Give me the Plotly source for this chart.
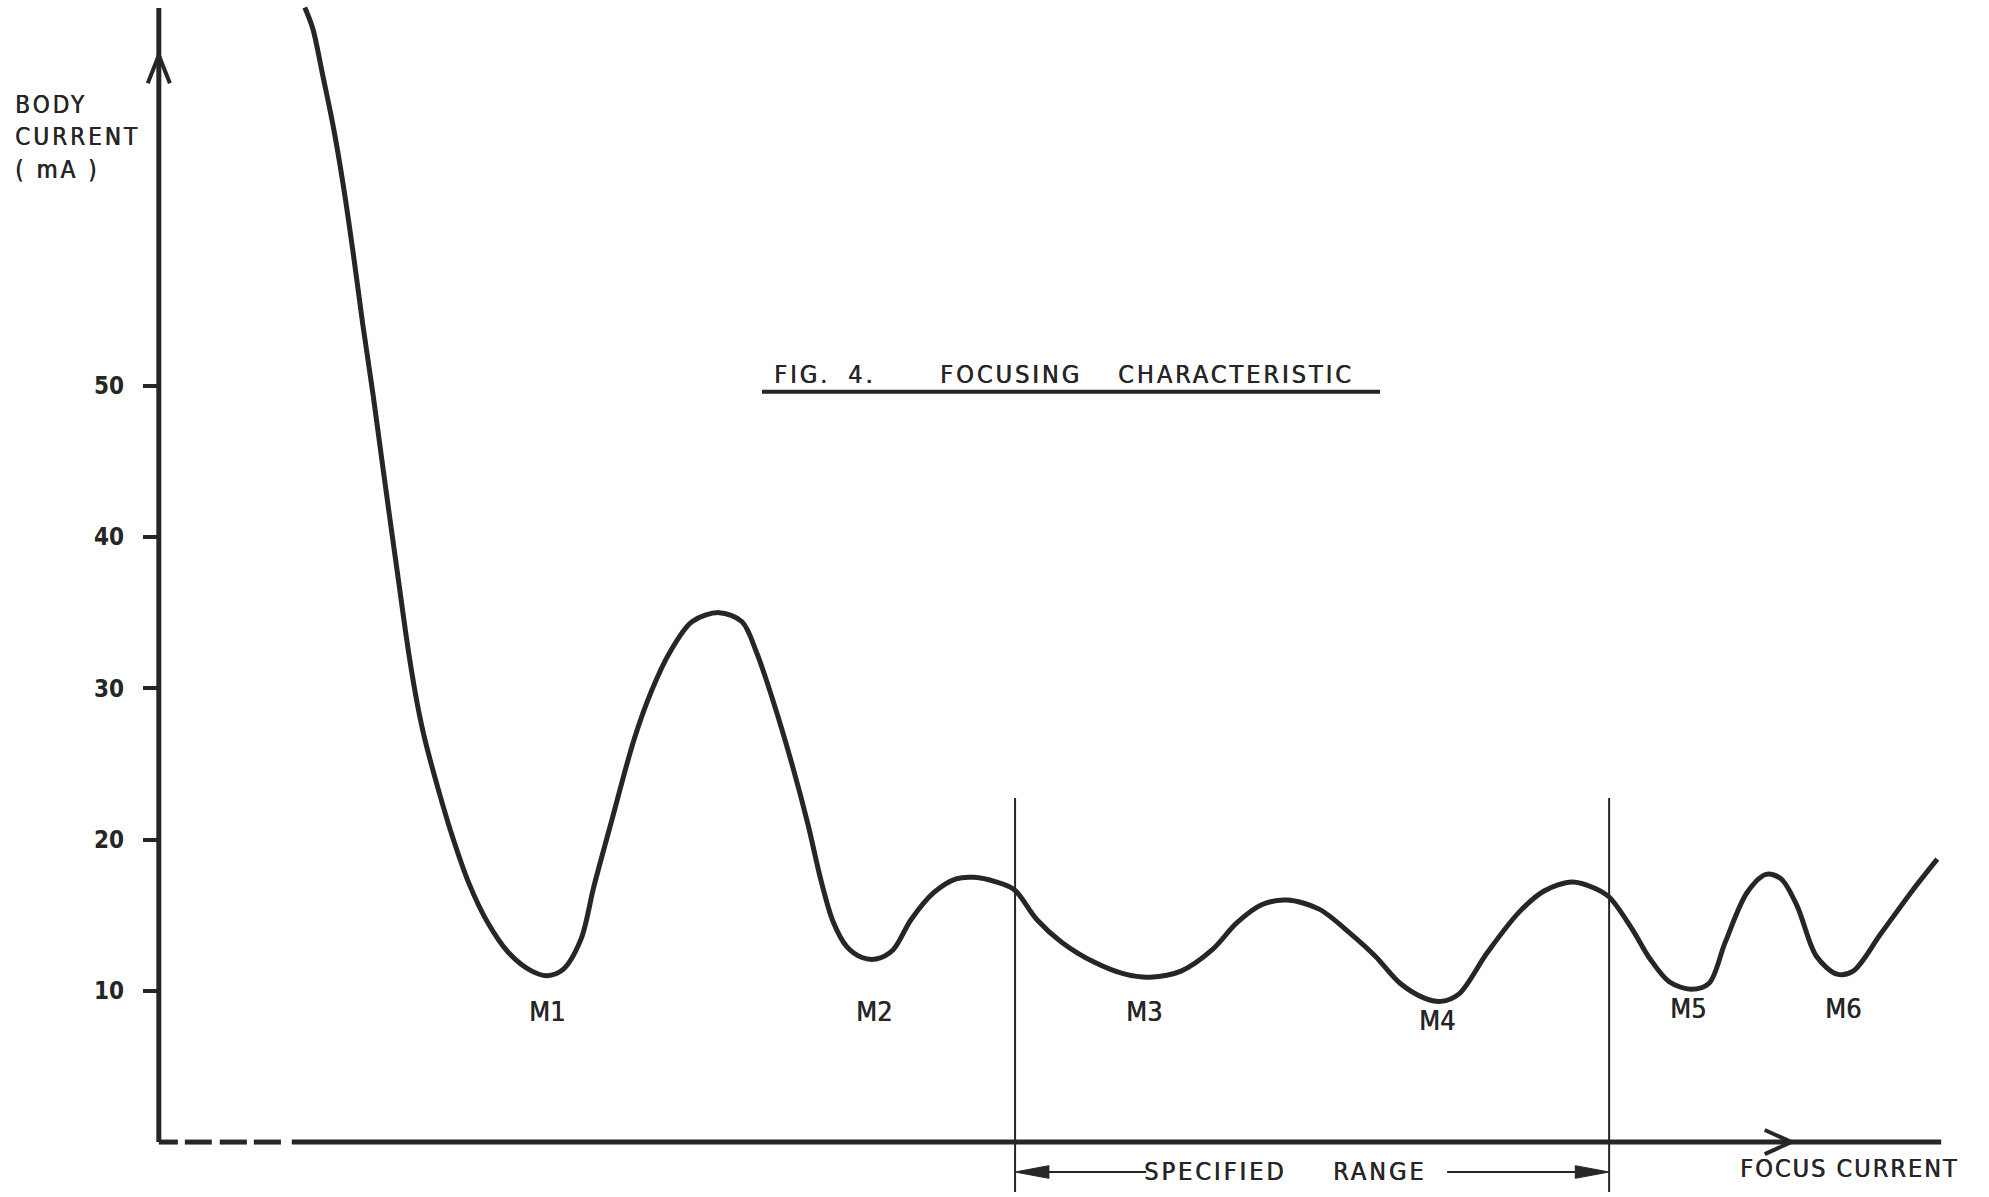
import plotly.graph_objects as go

# ---------------- data ----------------
focus_current = [
    8.19, 8.64, 9.20, 9.76, 10.33, 10.89, 11.45, 12.01, 12.57, 13.13, 13.52,
    13.86, 14.20, 14.53, 14.93, 15.66, 16.39, 17.40, 18.41, 19.64, 20.93, 21.77, 22.67,
    23.68, 24.41, 25.42, 26.66, 27.67, 28.68, 29.91, 31.43, 32.72, 33.56,
    34.51, 35.52, 36.42, 37.15, 37.82, 38.61, 39.45, 40.24, 41.19, 42.20, 43.49,
    44.73, 45.74, 46.97, 47.98, 49.27, 50.67, 52.47, 54.21, 55.61, 57.35,
    59.09, 60.49, 61.90, 63.30, 65.10, 66.84, 68.24, 69.64, 71.04, 71.94,
    72.95, 74.52, 76.32, 77.72, 79.29, 80.53, 81.37, 82.60, 83.67, 84.74,
    85.97, 86.98, 87.88, 89.11, 90.18, 91.02, 91.92, 92.99, 94.16, 95.06,
    96.63, 98.37, 99.78,
]
body_current = [
    75.0, 73.6, 70.5, 67.3, 63.4, 58.9, 54.0, 49.5, 44.6, 39.8, 36.5,
    33.6, 31.0, 28.8, 26.6, 23.4, 20.5, 17.1, 14.6, 12.5, 11.3, 11.0, 11.4,
    13.4, 16.9, 21.3, 26.6, 29.9, 32.4, 34.4, 35.0, 34.4, 32.3,
    29.0, 25.0, 21.0, 17.3, 14.6, 12.9, 12.2, 12.1, 12.7, 14.7, 16.5,
    17.4, 17.5, 17.2, 16.7, 14.7, 13.2, 11.9, 11.1, 10.9, 11.3,
    12.7, 14.5, 15.7, 16.0, 15.4, 13.8, 12.3, 10.5, 9.5, 9.3,
    9.8, 12.5, 15.2, 16.6, 17.2, 16.8, 16.2, 14.2, 12.1, 10.6,
    10.1, 10.5, 13.2, 16.5, 17.7, 17.4, 15.6, 12.3, 11.1, 11.3,
    13.8, 16.6, 18.7,
]

y_tick_values = [10, 20, 30, 40, 50]
y_tick_labels = ["10", "20", "30", "40", "50"]

minima_labels = ["M1", "M2", "M3", "M4", "M5", "M6"]
minima_x = [21.8, 40.1, 55.3, 71.7, 85.8, 94.5]

specified_range = [48.04, 81.37]

title_words = ["FIG.", "4.", "FOCUSING", "CHARACTERISTIC"]
y_title_lines = ["BODY", "CURRENT", "( mA )"]
x_title = "FOCUS CURRENT"
range_words = ["SPECIFIED", "RANGE"]

# ---------------- styling ----------------
INK = "#262626"
FONT = "DejaVu Sans Condensed"
X_RANGE = [-1, 101]
Y_RANGE = [-3.5, 75.5]
X_END = 100
Y_TOP = 74.97

fig = go.Figure()
fig.add_trace(go.Scatter(
    x=focus_current, y=body_current, mode="lines",
    line=dict(color=INK, width=5, shape="spline", smoothing=0.9),
    hoverinfo="skip", showlegend=False,
))

shapes = []


def seg(x0, y0, x1, y1, w):
    shapes.append(dict(type="line", xref="x", yref="y", x0=x0, y0=y0, x1=x1, y1=y1,
                       line=dict(color=INK, width=w)))


# y axis line with open arrowhead
seg(0, 0, 0, Y_TOP, 5)
shapes.append(dict(type="path", xref="x", yref="y",
                   path="M -0.62,70.0 L 0,71.85 L 0.62,70.0",
                   line=dict(color=INK, width=4)))
# x axis: dashed start then solid line with open arrowhead
for a, b in [(0, 1.07), (1.46, 2.97), (3.42, 4.94), (5.33, 6.85)]:
    seg(a, 0, b, 0, 5)
seg(7.46, 0, X_END, 0, 5)
shapes.append(dict(type="path", xref="x", yref="y",
                   path="M 90.1,0.8 L 91.6,0 L 90.1,-0.8",
                   line=dict(color=INK, width=4)))
# specified range boundaries
for xv in specified_range:
    seg(xv, -3.3, xv, 22.75, 2)
# specified range arrow
ya = -1.98
seg(specified_range[0] + 1.8, ya, 55.4, ya, 2)
seg(72.28, ya, specified_range[1] - 1.8, ya, 2)
shapes.append(dict(type="path", xref="x", yref="y",
                   path=f"M {specified_range[0]},{ya} L {specified_range[0]+1.9},{ya+0.42} "
                        f"L {specified_range[0]+1.9},{ya-0.42} Z",
                   fillcolor=INK, line=dict(color=INK, width=1)))
shapes.append(dict(type="path", xref="x", yref="y",
                   path=f"M {specified_range[1]},{ya} L {specified_range[1]-1.9},{ya+0.42} "
                        f"L {specified_range[1]-1.9},{ya-0.42} Z",
                   fillcolor=INK, line=dict(color=INK, width=1)))
# title underline
seg(33.84, 49.6, 68.52, 49.6, 4)

annotations = []
SHADOW = f"0.6px 0px 0px {INK}"


def text(t, x, y, size=25, xanchor="center", xref="x", spacing=3):
    annotations.append(dict(
        text=f'<span style="letter-spacing:{spacing}px">{t}</span>',
        x=x, y=y, xref=xref, yref="y", showarrow=False,
        xanchor=xanchor, yanchor="middle",
        font=dict(family=FONT, size=size, color=INK, shadow=SHADOW)))


for w, xc in zip(title_words, [36.08, 39.4, 47.8, 60.44]):
    text(w, xc, 50.75, size=25)
for line, yc in zip(y_title_lines, [68.54, 66.42, 64.24]):
    # left of the y axis: place in paper coordinates (x = -8.19 in data units)
    text(line, (-8.19 - X_RANGE[0]) / (X_RANGE[1] - X_RANGE[0]), yc, size=24,
         xanchor="left", xref="paper")
text(x_title, 94.84, -1.72, size=25, spacing=2)
for w, xc in zip(range_words, [59.3, 68.5]):
    text(w, xc, -1.95, size=25)
for lab, xm, yl in zip(minima_labels, minima_x, [8.6, 8.6, 8.6, 8.06, 8.86, 8.86]):
    text(lab, xm, yl, size=27, spacing=0)

fig.update_layout(
    width=1989, height=1197,
    margin=dict(l=141, r=30, t=0, b=2, autoexpand=False),
    paper_bgcolor="white", plot_bgcolor="white",
    shapes=shapes, annotations=annotations,
    showlegend=False,
    xaxis=dict(range=X_RANGE, visible=False, showgrid=False, zeroline=False),
    yaxis=dict(range=Y_RANGE, anchor="free", position=1 / 102,
               showline=False, showgrid=False, zeroline=False,
               ticks="outside", ticklen=16, tickwidth=4, tickcolor=INK,
               tickvals=y_tick_values, ticktext=y_tick_labels,
               ticklabelstandoff=14,
               tickfont=dict(family=FONT, size=24, color=INK, weight="bold")),
)

fig.write_html("out.html", config={"displayModeBar": False},
               post_script="document.body.style.margin='0';document.body.style.overflow='hidden';")
